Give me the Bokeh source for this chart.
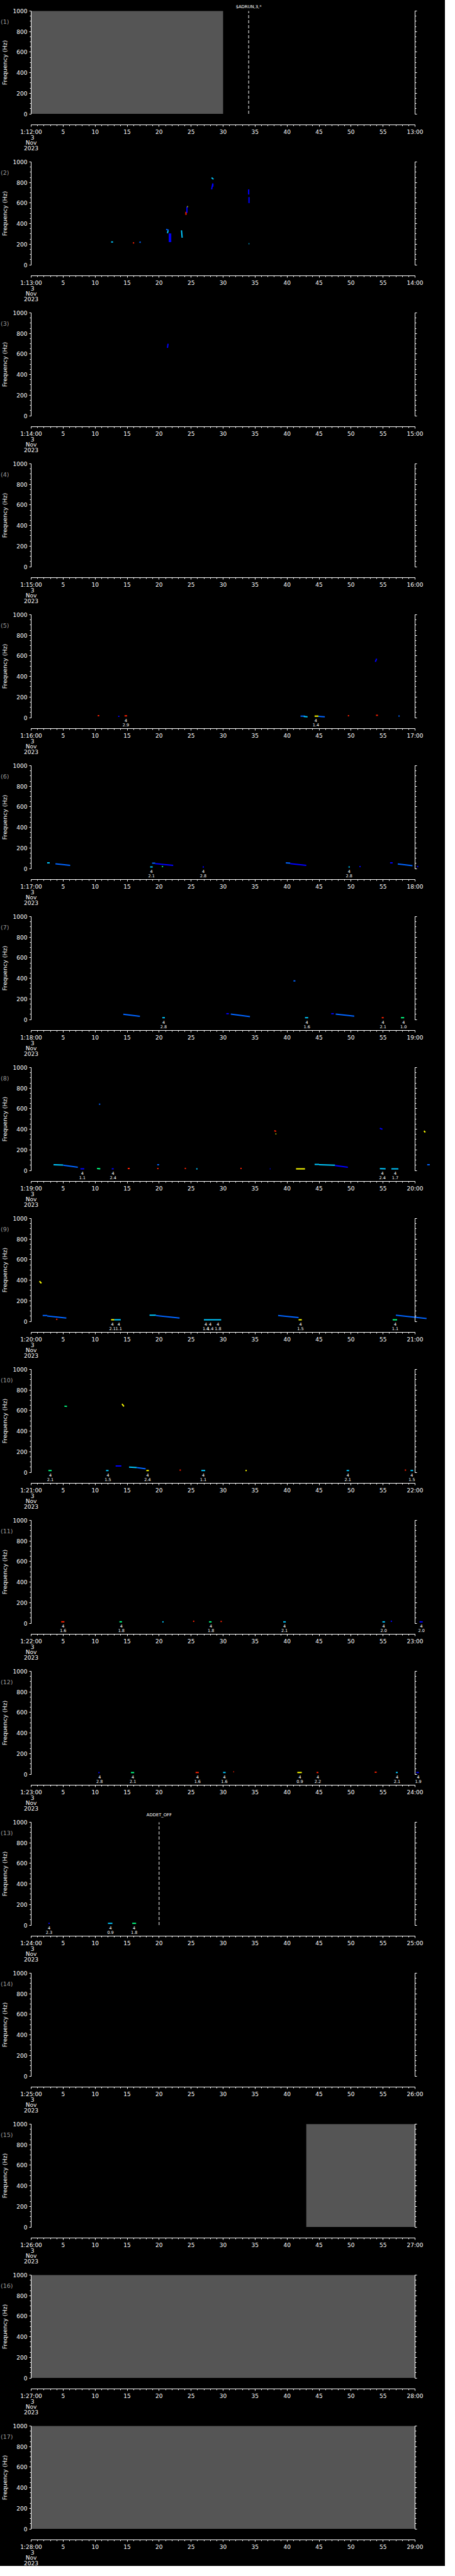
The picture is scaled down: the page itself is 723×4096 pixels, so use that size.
from bokeh.plotting import figure
from bokeh.models import Range1d, FixedTicker, LinearAxis, Label, LabelSet, ColumnDataSource
from bokeh.layouts import column
from bokeh.embed import file_html
from bokeh.resources import INLINE
from bokeh.core.properties import value

# ---------------- data ----------------
HOUR = 1
START_MINUTE = [12, 13, 14, 15, 16, 17, 18, 19, 20, 21, 22, 23, 24, 25, 26, 27, 28]
DAY_LINES = ["3", "Nov", "2023"]
FREQ_TICKS = [0, 200, 400, 600, 800, 1000]
FREQ_MINOR = list(range(0, 1001, 50))
SEC_TICKS = list(range(0, 61, 5))
SEC_MINOR = list(range(0, 61))

# data gaps (grey blocks): panel, start s, end s
GAP_PANEL = [1, 15, 16, 17]
GAP_T0 = [0, 43, 0, 0]
GAP_T1 = [30, 60, 60, 60]

# command events (dashed lines)
EVENT_PANEL = [1, 13]
EVENT_T = [34.0, 20.0]
EVENT_TEXT = ["$ADRUN,3,*", "ADDET_OFF"]

# detections: (second, value) ; label count above each is 4
NOTES_P05 = [(14.8, 2.9), (44.5, 1.4)]
NOTES_P06 = [(18.8, 2.1), (26.9, 2.8), (49.7, 2.8)]
NOTES_P07 = [(20.7, 2.8), (43.1, 1.6), (55.0, 2.1), (58.2, 1.0)]
NOTES_P08 = [(8.0, 1.1), (12.8, 2.4), (54.9, 2.4), (56.9, 1.7)]
NOTES_P09 = [(12.7, 2.1), (13.7, 1.1), (27.3, 1.4), (28.0, 1.4), (29.2, 1.8), (42.1, 1.5), (56.9, 1.1)]
NOTES_P10 = [(3.0, 2.1), (12.0, 1.5), (18.2, 2.4), (26.9, 1.1), (49.5, 2.1), (59.5, 1.5)]
NOTES_P11 = [(5.0, 1.6), (14.1, 1.8), (28.1, 1.8), (39.6, 2.1), (55.1, 2.0), (61.0, 2.0)]
NOTES_P12 = [(10.7, 2.8), (15.9, 2.1), (26.0, 1.6), (30.2, 1.6), (42.0, 0.9), (44.8, 2.2), (57.2, 2.1), (60.5, 1.9)]
NOTES_P13 = [(2.8, 2.3), (12.4, 0.9), (16.1, 1.8)]
NOTE_COUNT = 4

# spectrogram traces: (t0 s, t1 s, f0 Hz, f1 Hz, intensity level 1..6)
SPEC_P02 = [(12.5, 12.8, 222, 222, 3), (15.9, 16.1, 213, 213, 6), (17.0, 17.05, 213, 226, 2),
            (21.1, 21.5, 345, 335, 2), (21.3, 21.4, 307, 330, 3), (21.6, 21.6, 220, 305, 1),
            (21.8, 21.8, 220, 305, 1), (23.5, 23.6, 335, 263, 3), (24.2, 24.2, 485, 515, 6),
            (24.35, 24.35, 505, 565, 1), (24.4, 24.5, 565, 565, 5), (28.2, 28.4, 733, 790, 1),
            (28.4, 28.4, 760, 790, 1), (28.2, 28.5, 847, 832, 3), (34.0, 34.0, 683, 733, 1),
            (34.05, 34.05, 600, 658, 1), (34.0, 34.1, 205, 205, 3)]
SPEC_P03 = [(21.3, 21.4, 660, 700, 1)]
SPEC_P05 = [(10.4, 10.65, 18, 18, 6), (13.6, 13.8, 12, 12, 1), (14.6, 15.0, 17, 17, 6),
            (42.1, 42.8, 14, 14, 2), (42.6, 43.2, 10, 8, 3), (44.3, 44.9, 14, 14, 5),
            (44.9, 45.9, 12, 8, 2), (49.5, 49.7, 18, 18, 6), (53.9, 54.2, 22, 22, 6),
            (57.4, 57.6, 15, 15, 2), (53.8, 54.0, 542, 573, 1)]
SPEC_P06 = [(2.5, 2.9, 55, 55, 3), (3.8, 6.1, 46, 30, 2), (18.6, 19.0, 16, 16, 3),
            (18.9, 19.4, 52, 52, 2), (19.4, 22.2, 48, 30, 1), (20.5, 20.55, 14, 24, 4),
            (26.8, 27.0, 15, 15, 1), (39.8, 40.5, 55, 52, 2), (40.5, 43.0, 48, 30, 1),
            (49.6, 49.8, 15, 15, 3), (51.3, 51.5, 19, 19, 1), (56.1, 56.5, 55, 55, 1),
            (57.3, 59.6, 45, 27, 2), (60.3, 60.5, 19, 19, 1)]
SPEC_P07 = [(14.4, 17.0, 51, 30, 2), (20.5, 20.9, 17, 17, 3), (30.5, 30.9, 56, 56, 1),
            (31.2, 34.2, 52, 28, 2), (41.0, 41.3, 375, 375, 2), (42.8, 43.3, 17, 17, 3),
            (46.9, 47.3, 56, 56, 1), (47.6, 50.5, 52, 32, 2), (54.8, 55.1, 17, 17, 6),
            (57.8, 58.3, 17, 17, 4)]
SPEC_P08 = [(3.5, 5.0, 55, 52, 3), (5.0, 7.3, 50, 30, 2), (7.7, 8.3, 15, 15, 1),
            (10.3, 10.8, 19, 15, 4), (12.6, 12.9, 15, 15, 1), (15.1, 15.4, 19, 19, 6),
            (19.7, 20.0, 55, 55, 2), (19.7, 19.9, 19, 19, 6), (10.6, 10.8, 643, 643, 2),
            (24.0, 24.2, 19, 19, 6), (25.8, 26.0, 15, 15, 3), (32.7, 32.9, 19, 19, 6),
            (37.3, 37.4, 15, 15, 1), (38.0, 38.3, 385, 380, 6), (38.2, 38.3, 355, 355, 5),
            (41.4, 42.8, 15, 15, 5), (44.3, 45.0, 58, 58, 3), (45.0, 47.5, 55, 50, 3),
            (47.5, 49.5, 48, 30, 1), (54.5, 54.9, 410, 400, 1), (54.5, 55.4, 17, 15, 3),
            (56.3, 57.4, 15, 15, 3), (61.4, 61.6, 385, 370, 5), (61.9, 62.3, 55, 55, 2)]
SPEC_P09 = [(1.3, 1.6, 390, 370, 5), (1.8, 2.5, 56, 56, 2), (2.5, 5.5, 52, 32, 2),
            (3.9, 4.1, 20, 20, 6), (12.5, 13.0, 15, 15, 5), (13.0, 14.0, 15, 15, 3),
            (18.5, 19.5, 60, 60, 3), (19.5, 23.2, 56, 32, 2), (27.0, 29.7, 15, 15, 3),
            (38.6, 41.8, 56, 37, 2), (41.8, 42.3, 15, 15, 5), (56.5, 57.2, 15, 15, 4),
            (57.0, 61.8, 60, 28, 2)]
SPEC_P10 = [(5.2, 5.6, 643, 640, 4), (14.2, 14.5, 665, 640, 5), (2.7, 3.2, 17, 17, 4),
            (11.7, 12.1, 17, 17, 3), (13.2, 14.1, 61, 61, 1), (15.3, 16.5, 51, 46, 3),
            (16.5, 17.9, 46, 33, 2), (18.0, 18.4, 17, 17, 5), (23.2, 23.4, 21, 21, 6),
            (26.6, 27.2, 17, 17, 3), (33.5, 33.7, 17, 17, 5), (49.3, 49.7, 17, 17, 3),
            (58.4, 58.6, 21, 21, 6), (59.3, 59.7, 17, 17, 3)]
SPEC_P11 = [(4.7, 5.2, 13, 13, 6), (13.8, 14.2, 13, 13, 4), (20.5, 20.7, 13, 13, 3),
            (25.3, 25.5, 19, 19, 6), (27.8, 28.2, 13, 13, 4), (29.6, 29.8, 17, 17, 6),
            (39.4, 39.8, 13, 13, 3), (54.9, 55.3, 13, 13, 3), (56.2, 56.4, 19, 19, 1),
            (60.7, 61.2, 13, 13, 1)]
SPEC_P12 = [(10.5, 10.7, 16, 16, 1), (15.6, 16.1, 16, 16, 4), (25.7, 26.2, 16, 16, 6),
            (30.0, 30.4, 16, 16, 3), (31.6, 31.7, 23, 23, 6), (41.6, 42.3, 16, 16, 5),
            (44.6, 44.9, 16, 16, 6), (53.7, 54.0, 19, 19, 6), (57.0, 57.3, 16, 16, 3),
            (60.2, 60.6, 16, 16, 1)]
SPEC_P13 = [(2.7, 2.9, 17, 17, 1), (12.0, 12.7, 17, 17, 3), (15.8, 16.4, 17, 17, 4)]

SPEC_BY_PANEL = {2: SPEC_P02, 3: SPEC_P03, 5: SPEC_P05, 6: SPEC_P06, 7: SPEC_P07, 8: SPEC_P08,
                 9: SPEC_P09, 10: SPEC_P10, 11: SPEC_P11, 12: SPEC_P12, 13: SPEC_P13}
NOTES_BY_PANEL = {5: NOTES_P05, 6: NOTES_P06, 7: NOTES_P07, 8: NOTES_P08, 9: NOTES_P09,
                  10: NOTES_P10, 11: NOTES_P11, 12: NOTES_P12, 13: NOTES_P13}

# ---------------- styling / geometry ----------------
LEVEL_COLORS = {1: "#0000ff", 2: "#0064ff", 3: "#00c8ff", 4: "#00ff80", 5: "#ffff00", 6: "#ff2000"}
FONT = "DejaVu Sans"
W, H = 707, 240
# pixel geometry inside one panel
PX_T0, PX_T60 = 49.0, 659.0          # x pixel of 0 s and 60 s
PX_F1000, PX_F0 = 17.0, 180.5        # y pixel of 1000 Hz and 0 Hz
PX_XAXIS = 197.5                     # y pixel of the time axis line
sec_per_px = 60.0 / (PX_T60 - PX_T0)
hz_per_px = 1000.0 / (PX_F0 - PX_F1000)
X0 = -PX_T0 * sec_per_px
X1 = 60.0 + (W - PX_T60) * sec_per_px
Y1 = 1000.0 + PX_F1000 * hz_per_px
Y0 = -(H - PX_F0) * hz_per_px
XAXIS_AT = -(PX_XAXIS - PX_F0) * hz_per_px


def hz_at(px):
    return (PX_F0 - px) * hz_per_px


def sec_at(px):
    return (px - PX_T0) * sec_per_px


BG = "black"
FG = "white"


def style_axis(ax, tick_out):
    ax.axis_line_color = FG
    ax.axis_line_width = 1
    ax.major_tick_line_color = FG
    ax.minor_tick_line_color = FG
    ax.major_tick_in = 0
    ax.minor_tick_in = 0
    ax.major_tick_out = tick_out
    ax.minor_tick_out = 2
    ax.major_label_text_color = FG
    ax.major_label_text_font = FONT
    ax.major_label_text_font_size = "9px"


figs = []
for idx, minute in enumerate(START_MINUTE):
    panel = idx + 1
    p = figure(width=W, height=H, output_backend="svg", toolbar_location=None,
               x_range=Range1d(X0, X1), y_range=Range1d(Y0, Y1),
               min_border=0, min_border_left=0, min_border_right=0,
               min_border_top=0, min_border_bottom=0,
               background_fill_color=BG, border_fill_color=BG, outline_line_color=None)
    p.grid.visible = False

    # time axis (seconds of the minute)
    xa = p.xaxis[0]
    xa.fixed_location = XAXIS_AT
    xa.bounds = (0, 60)
    xa.ticker = FixedTicker(ticks=SEC_TICKS, minor_ticks=SEC_MINOR)
    xa.major_label_overrides = {0: f"{HOUR}:{minute:02d}:00", 60: f"{minute + 1:02d}:00"}
    style_axis(xa, 3)
    xa.major_label_standoff = 4

    # left frequency axis
    ya = p.yaxis[0]
    ya.fixed_location = 0
    ya.bounds = (0, 1000)
    ya.ticker = FixedTicker(ticks=FREQ_TICKS, minor_ticks=FREQ_MINOR)
    style_axis(ya, 3)
    ya.major_label_standoff = 3
    ya.axis_label = "Frequency (Hz)"
    ya.axis_label_text_color = FG
    ya.axis_label_text_font = FONT
    ya.axis_label_text_font_style = "normal"
    ya.axis_label_text_font_size = "9.5px"
    ya.axis_label_standoff = 5

    # right axis (no labels)
    ra = LinearAxis(fixed_location=60, bounds=(0, 1000),
                    ticker=FixedTicker(ticks=FREQ_TICKS, minor_ticks=FREQ_MINOR))
    style_axis(ra, 3)
    ra.major_label_text_color = None
    ra.major_label_text_font_size = "1px"
    p.add_layout(ra, "right")

    # grey data-gap blocks
    g = [i for i, gp in enumerate(GAP_PANEL) if gp == panel]
    if g:
        p.quad(left=[GAP_T0[i] for i in g], right=[GAP_T1[i] for i in g],
               bottom=0, top=1000, fill_color="#555555", line_color=None)

    # spectrogram traces
    spec = SPEC_BY_PANEL.get(panel, [])
    if spec:
        src = ColumnDataSource(dict(
            x0=[s[0] for s in spec], x1=[s[1] for s in spec],
            y0=[s[2] for s in spec], y1=[s[3] for s in spec],
            c=[LEVEL_COLORS[s[4]] for s in spec]))
        p.segment(x0="x0", y0="y0", x1="x1", y1="y1", line_color="c", line_width=2,
                  line_cap="butt", source=src)

    # detection annotations
    notes = NOTES_BY_PANEL.get(panel, [])
    if notes:
        nsrc = ColumnDataSource(dict(
            x=[n[0] for n in notes],
            yc=[hz_at(184.7)] * len(notes), yv=[hz_at(191.8)] * len(notes),
            count=[str(NOTE_COUNT)] * len(notes),
            val=[f"{n[1]:.1f}" for n in notes]))
        for ycol, tcol in (("yc", "count"), ("yv", "val")):
            p.add_layout(LabelSet(x="x", y=ycol, text=tcol, source=nsrc,
                                  text_align="center", text_baseline="middle",
                                  text_color=FG, text_font=value(FONT),
                                  text_font_size=value("6.5px")))

    # command events
    e = [i for i, ep in enumerate(EVENT_PANEL) if ep == panel]
    for i in e:
        p.segment(x0=[EVENT_T[i]], y0=[0], x1=[EVENT_T[i]], y1=[1000],
                  line_color=FG, line_width=1, line_dash="5 3")
        p.add_layout(Label(x=EVENT_T[i], y=hz_at(10.5) if panel == 1 else hz_at(5.0),
                           text=EVENT_TEXT[i], text_align="center", text_baseline="middle",
                           text_color=FG, text_font=FONT, text_font_size="6.8px"))

    # panel number
    p.add_layout(Label(x=sec_at(0.5), y=hz_at(33.5), text=f"({panel})", text_align="left",
                       text_baseline="middle", text_color="#9a9a9a",
                       text_font=FONT, text_font_size="9.5px"))

    # date lines under the first tick
    for j, (txt, py) in enumerate(zip(DAY_LINES, [218.0, 226.4, 234.9])):
        p.add_layout(Label(x=0.2 if j == 0 else 0, y=hz_at(py), text=txt, text_align="center",
                           text_baseline="middle", text_color=FG,
                           text_font=FONT, text_font_size="9px"))
    figs.append(p)

layout = column(*figs, spacing=0, styles={"background-color": "black"})
open("out.html", "w").write(file_html(layout, INLINE))
